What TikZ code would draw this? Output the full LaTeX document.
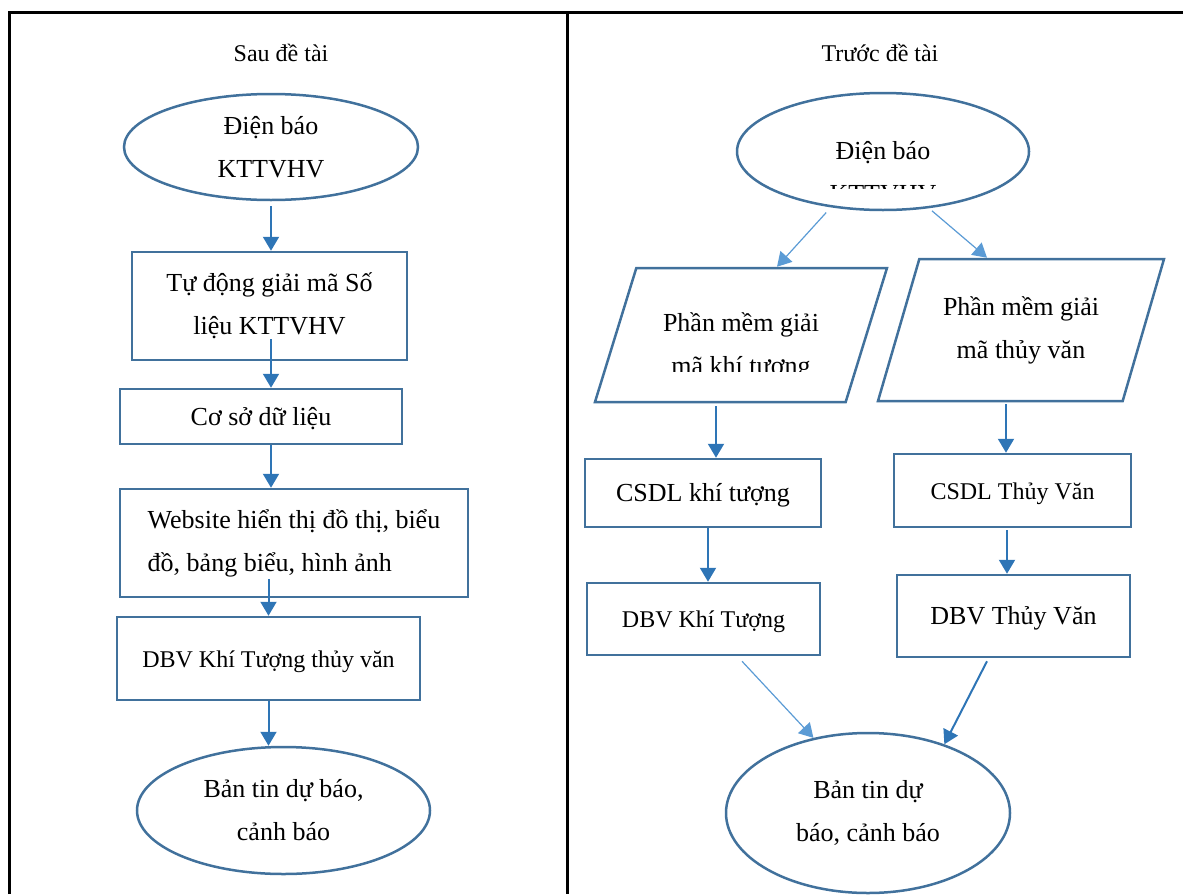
\documentclass[tikz,border=0pt]{standalone}
\usepackage{fontspec}
\setmainfont{Liberation Serif}
\usetikzlibrary{shapes.geometric,arrows.meta}

\definecolor{shpblue}{HTML}{41719C}
\definecolor{arrblue}{HTML}{2E75B6}
\definecolor{lightblue}{HTML}{5B9BD5}

\tikzset{
  shp/.style={draw=shpblue, line width=1.25pt},
  boxn/.style={shp, rectangle, align=center, inner sep=0pt},
  lowtext/.style={text height=1.1em, text depth=0.25em},
  ell/.style={shp, ellipse, align=center, inner sep=0pt},
  para/.style={shp, trapezium, trapezium left angle=58.5, trapezium right angle=121.5,
    trapezium stretches body, inner sep=0pt, align=center},
  arr/.style={draw=arrblue, line width=1pt, -{Triangle[width=8pt,length=7pt]}},
  thinarr/.style={draw=lightblue, line width=0.6pt, -{Triangle[width=8pt,length=7pt]}},
  big/.style={font=\fontsize{13}{21.5}\selectfont},
  small/.style={font=\fontsize{12}{21.5}\selectfont},
  grid line/.style={draw=black, line width=1.5pt},
}

\begin{document}
\begin{tikzpicture}[x=0.5pt, y=-0.5pt]
    \useasboundingbox (0,0) rectangle (1183,894);

    % table frame
    \draw[grid line] (9,894) -- (9,12) -- (1183,12);
    \draw[grid line] (567,12) -- (567,894);

    \node[small] (tl) at (281,53) {Sau đề tài};
    \node[small] (tr) at (880,53) {Trước đề tài};

    % left column: after
    \node[ell, big, minimum width=147pt, minimum height=53pt] (e1) at (271,147) {Điện báo\\KTTVHV};
    \node[boxn, big, minimum width=137.5pt, minimum height=54pt] (b1) at (269.5,306) {Tự động giải mã Số\\liệu KTTVHV};
    \node[boxn, big, lowtext, minimum width=141pt, minimum height=27.5pt] (b2) at (261,416.5) {Cơ sở dữ liệu};
    \node[boxn, big, align=left, minimum width=174pt, minimum height=54pt] (b3) at (294,543) {Website hiển thị đồ thị, biểu\\đồ, bảng biểu, hình ảnh};
    \node[boxn, small, lowtext, minimum width=151.5pt, minimum height=41.5pt] (b4) at (268.5,658.5) {DBV Khí Tượng thủy văn};
    \node[ell, big, minimum width=146.5pt, minimum height=63.5pt] (e2) at (283.5,810.5) {Bản tin dự báo,\\cảnh báo};

    \draw[arr] ([yshift=-2.5pt]e1.south) -- (b1.north -| e1.south);
    \draw[arr] ([yshift=11pt]b1.south -| e1.south) -- (b2.north -| e1.south);
    \draw[arr] (b2.south -| e1.south) -- (b3.north -| e1.south);
    \draw[arr] ([yshift=9.5pt]b3.south -| b4.north) -- (b4.north);
    \draw[arr] (b4.south) -- (b4.south |- e2.north);

    % right column: before
    \node[ell, minimum width=146pt, minimum height=58.5pt] (e3) at (883,151.5) {};
    \begin{scope}
      \clip (740,100) rectangle (1025,188);
      \node[big, align=center] (e3t) at (883,172) {Điện báo\\KTTVHV};
    \end{scope}

    \node[para, big, minimum width=146pt, minimum height=67pt] (p1) at (741,335) {\phantom{Phần mềm giải}\\\phantom{mã khí tượng}};
    \begin{scope}
      \clip (600,270) rectangle (880,371);
      \node[big, align=center] (p1t) at ([yshift=-5.5pt]p1.center) {Phần mềm giải\\mã khí tượng};
    \end{scope}
    \node[para, big, minimum width=143pt, minimum height=71pt] (p2) at (1021,330) {Phần mềm giải\\mã thủy văn};

    \node[boxn, big, lowtext, minimum width=118pt, minimum height=34pt] (c1) at (703,493) {CSDL khí tượng};
    \node[boxn, small, lowtext, minimum width=118.5pt, minimum height=36.5pt] (c2) at (1012.5,490.5) {CSDL Thủy Văn};
    \node[boxn, small, lowtext, minimum width=116.5pt, minimum height=36pt] (d1) at (703.5,619) {DBV Khí Tượng};
    \node[boxn, big, lowtext, minimum width=116.5pt, minimum height=41pt] (d2) at (1013.5,616) {DBV Thủy Văn};
    \node[ell, big, minimum width=142pt, minimum height=80pt] (e4) at (868,813) {Bản tin dự\\báo, cảnh báo};

    \draw[thinarr, shorten <=3.5pt] (e3.-133) -- ([xshift=18pt]p1.north);
    \draw[thinarr, shorten <=2pt] (e3.-51) -- ([xshift=-17pt]p2.north);
    \draw[arr] ([xshift=6.5pt,yshift=-1.5pt]c1.north |- p1.south) -- ([xshift=6.5pt]c1.north);
    \draw[arr] ([xshift=-3.25pt,yshift=-1pt]c2.north |- p2.south) -- ([xshift=-3.25pt]c2.north);
    \draw[arr] ([xshift=2.5pt]c1.south) -- ([xshift=2.5pt]c1.south |- d1.north);
    \draw[arr] ([xshift=-2.75pt,yshift=-1pt]c2.south) -- ([xshift=-2.75pt]c2.south |- d2.north);
    \draw[thinarr] ([xshift=19.25pt,yshift=-2.5pt]d1.south) -- (e4.126);
    \draw[arr] ([xshift=-13.25pt,yshift=-1.5pt]d2.south) -- (e4.42);
\end{tikzpicture}
\end{document}
